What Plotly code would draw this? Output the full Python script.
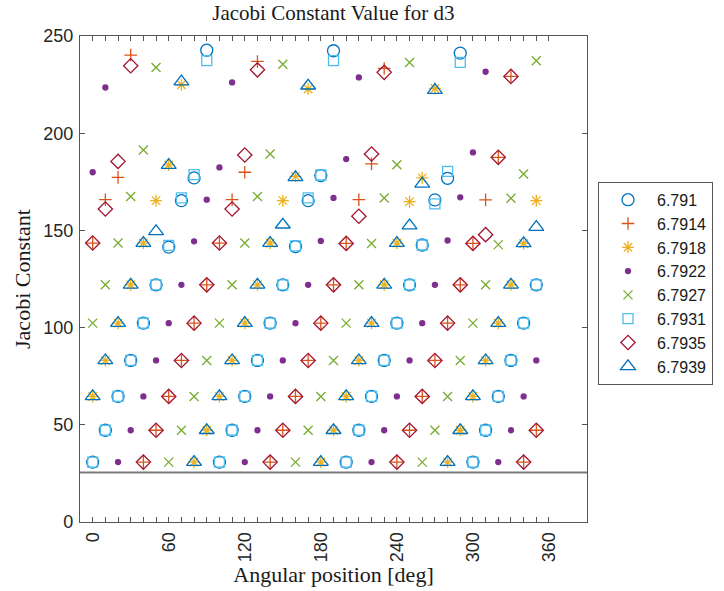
import plotly.graph_objects as go

# Angular positions (deg)
angles = list(range(0, 360, 10))

# Jacobi constant labels for each series
labels = ["6.791", "6.7914", "6.7918", "6.7922", "6.7927", "6.7931", "6.7935", "6.7939"]

c_6791 = [30.8, 47.2, 64.6, 83.1, 102.3, 122.0, 141.4, 165.3, 177.0, 242.7,
          30.8, 47.2, 64.6, 83.1, 102.3, 122.0, 141.7, 165.3, 178.2, 242.4,
          30.8, 47.2, 64.6, 83.1, 102.3, 122.0, 142.5, 165.7, 176.8, 241.2,
          30.8, 47.2, 64.6, 83.1, 102.3, 122.0]

c_67914 = [143.5, 165.8, 177.3, 240.2, 30.8, 47.2, 64.6, 83.1, 102.3, 122.0,
           143.5, 165.8, 179.9, 236.9, 30.8, 47.2, 64.6, 83.1, 102.3, 122.0,
           143.3, 165.8, 184.2, 233.3, 30.8, 47.2, 64.6, 83.1, 102.3, 122.0,
           143.3, 165.7, 187.6, 229.2, 30.8, 47.2]

c_67918 = [64.6, 83.1, 102.3, 122.0, 143.5, 165.3, 183.6, 224.9, 30.8, 47.2,
           64.6, 83.1, 102.3, 122.0, 143.5, 165.3, 177.8, 222.7, 30.8, 47.2,
           64.6, 83.1, 102.3, 122.0, 143.5, 164.8, 177.0, 223.0, 30.8, 47.2,
           64.6, 83.1, 102.3, 122.0, 143.3, 165.3]

c_67922 = [179.9, 223.5, 30.8, 47.2, 64.6, 83.1, 102.3, 122.0, 144.4, 165.8,
           182.4, 226.1, 30.8, 47.2, 64.6, 83.1, 102.3, 122.0, 144.6, 166.7,
           186.7, 228.7, 30.8, 47.2, 64.6, 83.1, 102.3, 122.0, 144.8, 167.0,
           190.1, 231.6, 30.8, 47.2, 64.6, 83.1]

c_67927 = [102.3, 122.0, 143.5, 167.4, 191.4, 233.8, 30.8, 47.2, 64.6, 83.1,
           102.3, 122.0, 143.5, 167.4, 189.3, 235.5, 30.8, 47.2, 64.6, 83.1,
           102.3, 122.0, 143.3, 166.7, 183.8, 236.4, 30.8, 47.2, 64.6, 83.1,
           102.3, 122.0, 142.7, 166.5, 179.0, 237.3]

c_67931 = [30.8, 47.2, 64.6, 83.1, 102.3, 122.0, 142.3, 166.7, 178.7, 237.3,
           30.8, 47.2, 64.6, 83.1, 102.3, 122.0, 142.0, 166.7, 178.5, 237.3,
           30.8, 47.2, 64.6, 83.1, 102.3, 122.0, 142.5, 163.6, 180.4, 236.4,
           30.8, 47.2, 64.6, 83.1, 102.3, 122.0]

c_67935 = [143.5, 161.0, 185.5, 234.7, 30.8, 47.2, 64.6, 83.1, 102.3, 122.0,
           143.5, 161.0, 188.8, 232.6, 30.8, 47.2, 64.6, 83.1, 102.3, 122.0,
           143.3, 157.3, 189.3, 231.3, 30.8, 47.2, 64.6, 83.1, 102.3, 122.0,
           143.3, 147.8, 187.6, 229.2, 30.8, 47.2]

c_67939 = [64.6, 83.1, 102.3, 122.0, 143.5, 149.5, 183.6, 226.5, 30.8, 47.2,
           64.6, 83.1, 102.3, 122.0, 143.5, 152.9, 177.3, 224.4, 30.8, 47.2,
           64.6, 83.1, 102.3, 122.0, 143.5, 152.5, 173.9, 222.2, 30.8, 47.2,
           64.6, 83.1, 102.3, 122.0, 143.3, 151.7]

series = [c_6791, c_67914, c_67918, c_67922, c_67927, c_67931, c_67935, c_67939]

# Reference level drawn across the axes
ref_level = 25.4

x_ticks = list(range(0, 361, 10))
x_ticktext = [str(v) if v % 60 == 0 else "" for v in x_ticks]
y_ticks = [0, 50, 100, 150, 200, 250]

styles = [
    dict(symbol="circle-open", size=12, color="#0072BD"),
    dict(symbol="cross-thin-open", size=9, color="#D95319"),
    dict(symbol="asterisk-open", size=10, color="#EDB120"),
    dict(symbol="circle", size=5, color="#7E2F8E"),
    dict(symbol="x-thin-open", size=9, color="#77AC30"),
    dict(symbol="square-open", size=10, color="#4DBEEE"),
    dict(symbol="diamond-open", size=11, color="#A2142F"),
    dict(symbol="triangle-up-open", size=13, color="#0072BD"),
]

fig = go.Figure()
for name, vals, st in zip(labels, series, styles):
    fig.add_trace(go.Scatter(
        x=angles, y=vals, mode="markers", name=name,
        marker=dict(symbol=st["symbol"], size=st["size"], color=st["color"],
                    line=dict(color=st["color"], width=1.3)),
    ))

fig.add_shape(type="line", xref="x", yref="y", x0=-10, x1=390,
              y0=ref_level, y1=ref_level,
              line=dict(color="#7a7a7a", width=2), layer="above")

axis_font = dict(family="Liberation Sans, Arial, sans-serif", size=18, color="#262626")
serif = "Liberation Serif, Times New Roman, serif"

fig.update_layout(
    width=724, height=591,
    margin=dict(l=80, r=137, t=36, b=69, autoexpand=False),
    paper_bgcolor="white", plot_bgcolor="white",
    title=dict(text="Jacobi Constant Value for d3", x=0.4605, xanchor="center",
               y=0.978, yref="container", yanchor="middle",
               font=dict(family=serif, size=21, color="#1a1a1a")),
    xaxis=dict(range=[-10, 390], tickvals=x_ticks, ticktext=x_ticktext,
               tickangle=-90, ticks="inside", ticklen=5, tickcolor="#555555",
               showline=True, linecolor="#555555", linewidth=1.2, mirror="ticks",
               showgrid=False, zeroline=False, tickfont=axis_font,
               ticklabelstandoff=2,
               title=dict(text="Angular position [deg]", standoff=4,
                          font=dict(family=serif, size=22, color="#1a1a1a"))),
    yaxis=dict(range=[0, 250], tickvals=y_ticks, ticks="inside", ticklen=5,
               tickcolor="#555555", showline=True, linecolor="#555555",
               linewidth=1.2, mirror="ticks", showgrid=False, zeroline=False,
               tickfont=axis_font, ticklabelstandoff=2,
               title=dict(text="Jacobi Constant", standoff=6,
                          font=dict(family=serif, size=22, color="#1a1a1a"))),
    legend=dict(x=1.0217, y=0.70, xanchor="left", yanchor="top",
                bordercolor="#555555", borderwidth=1, bgcolor="white",
                itemwidth=48,
                font=dict(family="Liberation Sans, Arial, sans-serif", size=16,
                          color="#1a1a1a"),
                tracegroupgap=0),
    showlegend=True,
)

fig.write_html("out.html")
